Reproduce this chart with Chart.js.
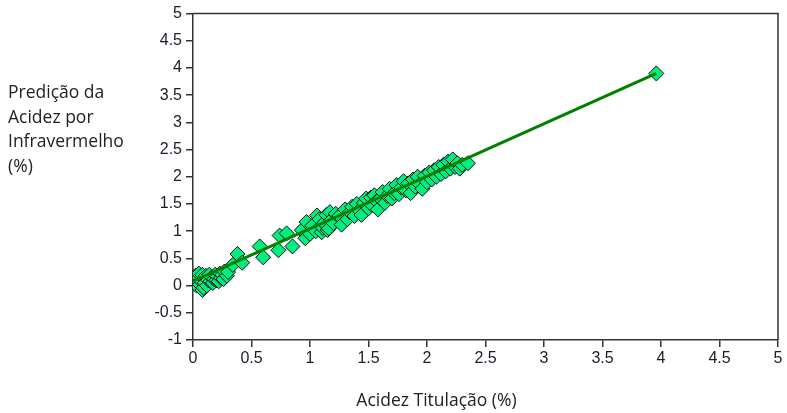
<!DOCTYPE html>
<html>
<head>
<meta charset="utf-8">
<script src="https://cdn.jsdelivr.net/npm/chart.js@4"></script>
<style>
  html, body { margin: 0; padding: 0; background: #fff; }
  #wrap { position: relative; width: 787px; height: 413px; }
  #chart { position: absolute; left: 0; top: 0; }
  .ytitle {
    position: absolute; left: 8px; top: 79px;
    font: 17.5px "Open Sans", sans-serif; line-height: 24.5px; color: #222;
  }
  .xtitle {
    position: absolute; left: 0; width: 873px; top: 387px; text-align: center;
    font: 17.5px "Open Sans", sans-serif; color: #222;
  }
</style>
</head>
<body>
<div id="wrap">
  <canvas id="chart" width="787" height="413"></canvas>
  <div class="ytitle">Predição da<br>Acidez por<br>Infravermelho<br>(%)</div>
  <div class="xtitle">Acidez Titulação (%)</div>
</div>
<script>
// titration acidity (x) vs infrared predicted acidity (y)
const titrationX = [
  0.00, 0.01, 0.02, 0.03, 0.04, 0.05, 0.05, 0.06, 0.07, 0.08, 0.08, 0.09, 0.10, 0.10, 0.11,
  0.12, 0.13, 0.14, 0.15, 0.16, 0.17, 0.18, 0.19, 0.20, 0.21, 0.22, 0.23, 0.24, 0.25, 0.26,
  0.27, 0.29, 0.30,
  0.34, 0.38, 0.42, 0.57, 0.60, 0.73, 0.74, 0.80, 0.85, 0.93, 0.96, 0.97,
  1.00, 1.02, 1.05, 1.06, 1.08, 1.10, 1.11, 1.12, 1.14, 1.15, 1.16, 1.17, 1.18, 1.23,
  1.20, 1.22, 1.25, 1.27, 1.30, 1.32, 1.34, 1.36, 1.38, 1.40, 1.42, 1.44, 1.46, 1.48, 1.50,
  1.52, 1.53, 1.55, 1.57, 1.58, 1.60, 1.62, 1.64, 1.66, 1.68, 1.70, 1.72, 1.74, 1.76, 1.78,
  1.80, 1.82, 1.84, 1.86, 1.88, 1.90, 1.92, 1.94, 1.96, 1.98, 2.00, 2.02, 2.04, 2.06, 2.08,
  2.10, 2.12, 2.14, 2.16, 2.18, 2.20, 2.22, 2.24, 2.26, 2.28, 2.30, 2.35,
  3.96
];
const infraredY = [
  0.05, 0.12, 0.18, 0.00, 0.10, 0.15, 0.22, 0.02, 0.08, 0.20, -0.08, -0.04, 0.12, 0.05, 0.18,
  0.00, 0.10, 0.20, 0.08, 0.15, 0.05, 0.12, 0.20, 0.10, 0.17, 0.08, 0.22, 0.14, 0.20, 0.12,
  0.26, 0.18, 0.25,
  0.38, 0.58, 0.42, 0.72, 0.52, 0.65, 0.92, 0.96, 0.72, 1.02, 0.87, 1.17,
  0.95, 1.10, 1.00, 1.29, 1.22, 0.98, 1.06, 1.15, 1.30, 1.02, 1.05, 1.35, 1.20, 1.29,
  1.15, 1.32, 1.28, 1.12, 1.40, 1.22, 1.35, 1.45, 1.28, 1.50, 1.38, 1.30, 1.52, 1.60, 1.42,
  1.62, 1.48, 1.66, 1.55, 1.40, 1.60, 1.72, 1.52, 1.65, 1.78, 1.60, 1.70, 1.85, 1.68, 1.80,
  1.92, 1.75, 1.88, 1.70, 1.95, 1.82, 2.00, 1.86, 1.78, 2.02, 1.90, 2.08, 1.95, 2.12, 2.00,
  2.18, 2.05, 2.22, 2.10, 2.28, 2.15, 2.32, 2.18, 2.25, 2.15, 2.22, 2.25,
  3.90
];
// fitted regression line endpoints
const fitX = [0, 3.96];
const fitY = [0.08, 3.90];

const tickColor = '#1c1c2a';
const tickFont = { family: 'Arial', size: 16 };
// 0.5 -> "0.5", 1.0 -> "1"
const fmt = v => String(+v.toFixed(1));

// box around the plot area (top and right sides)
const frame = {
  id: 'frame',
  beforeDatasetsDraw(chart) {
    const { ctx, chartArea: a } = chart;
    ctx.save();
    ctx.strokeStyle = '#333';
    ctx.lineWidth = 1.5;
    ctx.beginPath();
    ctx.moveTo(a.left, a.top);
    ctx.lineTo(a.right, a.top);
    ctx.lineTo(a.right, a.bottom);
    ctx.stroke();
    ctx.restore();
  }
};

new Chart(document.getElementById('chart'), {
  type: 'scatter',
  data: {
    datasets: [
      {
        type: 'line',
        data: fitX.map((x, i) => ({ x, y: fitY[i] })),
        borderColor: '#008000',
        borderWidth: 3,
        pointRadius: 0,
        order: 0
      },
      {
        data: titrationX.map((x, i) => ({ x, y: infraredY[i] })),
        pointStyle: 'rectRot',
        pointRadius: 7.5,
        backgroundColor: '#00ee80',
        borderColor: '#111',
        borderWidth: 1,
        order: 1
      }
    ]
  },
  plugins: [frame],
  options: {
    responsive: false,
    animation: false,
    layout: { padding: { left: 148, right: 9, top: 13, bottom: 0 } },
    plugins: { legend: { display: false }, tooltip: { enabled: false } },
    scales: {
      x: {
        min: 0, max: 5,
        afterFit: s => { s.height = 73; },
        ticks: { stepSize: 0.5, color: tickColor, font: tickFont, padding: 2, maxRotation: 0, callback: fmt },
        grid: { drawOnChartArea: false, tickLength: 7, color: '#333', lineWidth: 1.5 },
        border: { color: '#333', width: 1.5 }
      },
      y: {
        min: -1, max: 5,
        afterFit: s => { s.width = 45; },
        ticks: { stepSize: 0.5, color: tickColor, font: tickFont, padding: 4, callback: fmt },
        grid: { drawOnChartArea: false, tickLength: 7, color: '#333', lineWidth: 1.5 },
        border: { color: '#333', width: 1.5 }
      }
    }
  }
});
</script>
</body>
</html>
